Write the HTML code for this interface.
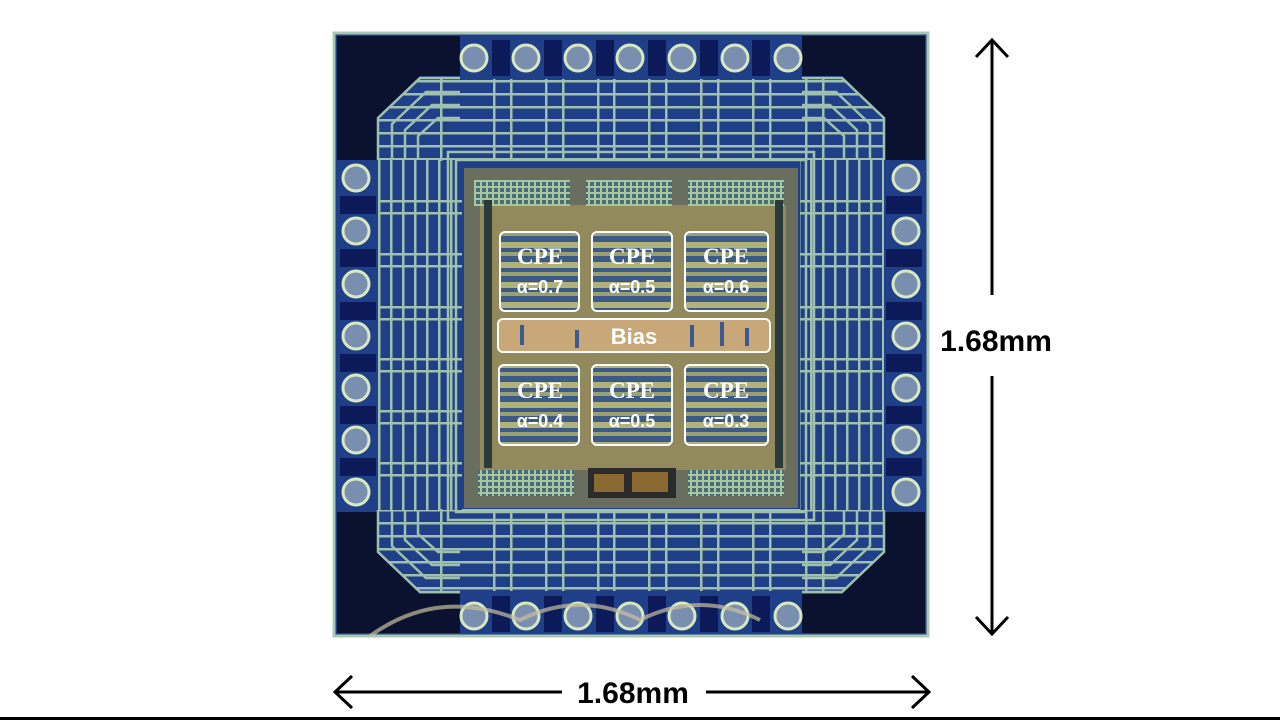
<!DOCTYPE html>
<html><head><meta charset="utf-8"><style>
html,body{margin:0;padding:0;background:#fff;width:1280px;height:720px;overflow:hidden}
svg{display:block}
</style></head><body>
<svg width="1280" height="720" viewBox="0 0 1280 720" xmlns="http://www.w3.org/2000/svg">
<defs>
<pattern id="hl" x="0" y="80" width="20" height="13" patternUnits="userSpaceOnUse">
<rect width="20" height="13" fill="#1f3f88"/><rect y="0" width="20" height="2.5" fill="#9fc0ac"/></pattern>
<pattern id="vl" x="378" y="0" width="12" height="20" patternUnits="userSpaceOnUse">
<rect width="12" height="20" fill="#1f3f88"/><rect x="0" width="2.5" height="20" fill="#9fc0ac"/></pattern>
<pattern id="cpe" x="0" y="0" width="20" height="20" patternUnits="userSpaceOnUse">
<rect width="20" height="20" fill="#3c5a88"/><rect y="2" width="20" height="6" fill="#b0b27a"/><rect y="12" width="20" height="4" fill="#9aa070"/></pattern>
<pattern id="bank" x="0" y="0" width="6" height="6" patternUnits="userSpaceOnUse">
<rect width="6" height="6" fill="#4a6a80"/><rect width="2" height="6" fill="#a8c89a"/><rect width="6" height="2" fill="#a8c89a"/></pattern>
</defs>
<rect x="334" y="33" width="594" height="603" fill="#1f3f88" stroke="#a9c8b2" stroke-width="3"/>
<rect x="378" y="79" width="506" height="82" fill="url(#hl)"/>
<rect x="378" y="509" width="506" height="82" fill="url(#hl)"/>
<rect x="378" y="160" width="84" height="350" fill="url(#vl)"/>
<rect x="800" y="160" width="84" height="350" fill="url(#vl)"/>
<g fill="#9fc0ac">
<rect x="440" y="79" width="2.5" height="82"/><rect x="493" y="79" width="2.5" height="82"/><rect x="510" y="79" width="2.5" height="82"/>
<rect x="545" y="79" width="2.5" height="82"/><rect x="562" y="79" width="2.5" height="82"/><rect x="597" y="79" width="2.5" height="82"/><rect x="613" y="79" width="2.5" height="82"/>
<rect x="648" y="79" width="2.5" height="82"/><rect x="665" y="79" width="2.5" height="82"/><rect x="700" y="79" width="2.5" height="82"/><rect x="717" y="79" width="2.5" height="82"/>
<rect x="752" y="79" width="2.5" height="82"/><rect x="769" y="79" width="2.5" height="82"/><rect x="805" y="79" width="2.5" height="82"/><rect x="822" y="79" width="2.5" height="82"/>
<rect x="440" y="509" width="2.5" height="82"/><rect x="493" y="509" width="2.5" height="82"/><rect x="510" y="509" width="2.5" height="82"/>
<rect x="545" y="509" width="2.5" height="82"/><rect x="562" y="509" width="2.5" height="82"/><rect x="597" y="509" width="2.5" height="82"/><rect x="613" y="509" width="2.5" height="82"/>
<rect x="648" y="509" width="2.5" height="82"/><rect x="665" y="509" width="2.5" height="82"/><rect x="700" y="509" width="2.5" height="82"/><rect x="717" y="509" width="2.5" height="82"/>
<rect x="752" y="509" width="2.5" height="82"/><rect x="769" y="509" width="2.5" height="82"/><rect x="805" y="509" width="2.5" height="82"/><rect x="822" y="509" width="2.5" height="82"/>
<rect x="378" y="200" width="84" height="2.5"/><rect x="378" y="212" width="84" height="2.5"/>
<rect x="378" y="253" width="84" height="2.5"/><rect x="378" y="265" width="84" height="2.5"/>
<rect x="378" y="306" width="84" height="2.5"/><rect x="378" y="318" width="84" height="2.5"/>
<rect x="378" y="358" width="84" height="2.5"/><rect x="378" y="370" width="84" height="2.5"/>
<rect x="378" y="410" width="84" height="2.5"/><rect x="378" y="422" width="84" height="2.5"/>
<rect x="378" y="462" width="84" height="2.5"/><rect x="378" y="474" width="84" height="2.5"/>
<rect x="800" y="200" width="84" height="2.5"/><rect x="800" y="212" width="84" height="2.5"/>
<rect x="800" y="253" width="84" height="2.5"/><rect x="800" y="265" width="84" height="2.5"/>
<rect x="800" y="306" width="84" height="2.5"/><rect x="800" y="318" width="84" height="2.5"/>
<rect x="800" y="358" width="84" height="2.5"/><rect x="800" y="370" width="84" height="2.5"/>
<rect x="800" y="410" width="84" height="2.5"/><rect x="800" y="422" width="84" height="2.5"/>
<rect x="800" y="462" width="84" height="2.5"/><rect x="800" y="474" width="84" height="2.5"/>
</g>
<g fill="#0a1230">
<polygon points="337,36 460,36 460,76 420,76 378,118 378,160 337,160"/>
<polygon points="925,36 802,36 802,76 842,76 884,118 884,160 925,160"/>
<polygon points="337,633 460,633 460,594 420,594 378,552 378,512 337,512"/>
<polygon points="925,633 802,633 802,594 842,594 884,552 884,512 925,512"/>
</g>
<g fill="none" stroke="#9fc0ac" stroke-width="2.5">
<path d="M378,160 V118 L420,78 H460"/><path d="M392,160 V124 L426,92 H460"/><path d="M405,160 V130 L432,105 H460"/><path d="M418,160 V136 L438,118 H460"/>
<path d="M884,160 V118 L842,78 H802"/><path d="M870,160 V124 L836,92 H802"/><path d="M857,160 V130 L830,105 H802"/><path d="M844,160 V136 L824,118 H802"/>
<path d="M378,510 V552 L420,592 H460"/><path d="M392,510 V546 L426,578 H460"/><path d="M405,510 V540 L432,565 H460"/><path d="M418,510 V534 L438,552 H460"/>
<path d="M884,510 V552 L842,592 H802"/><path d="M870,510 V546 L836,578 H802"/><path d="M857,510 V540 L830,565 H802"/><path d="M844,510 V534 L824,552 H802"/>
<rect x="448" y="152" width="366" height="368"/><rect x="456" y="160" width="350" height="352"/>
</g>
<g fill="#0c1a5a">
<rect x="492" y="40" width="18" height="36"/><rect x="544" y="40" width="18" height="36"/><rect x="596" y="40" width="18" height="36"/><rect x="648" y="40" width="18" height="36"/><rect x="700" y="40" width="18" height="36"/><rect x="752" y="40" width="18" height="36"/>
<rect x="492" y="596" width="18" height="36"/><rect x="544" y="596" width="18" height="36"/><rect x="596" y="596" width="18" height="36"/><rect x="648" y="596" width="18" height="36"/><rect x="700" y="596" width="18" height="36"/><rect x="752" y="596" width="18" height="36"/>
<rect x="340" y="196" width="36" height="18"/><rect x="340" y="249" width="36" height="18"/><rect x="340" y="302" width="36" height="18"/><rect x="340" y="354" width="36" height="18"/><rect x="340" y="406" width="36" height="18"/><rect x="340" y="458" width="36" height="18"/>
<rect x="886" y="196" width="36" height="18"/><rect x="886" y="249" width="36" height="18"/><rect x="886" y="302" width="36" height="18"/><rect x="886" y="354" width="36" height="18"/><rect x="886" y="406" width="36" height="18"/><rect x="886" y="458" width="36" height="18"/>
</g>
<g fill="#7a8fb0" stroke="#d8e8c0" stroke-width="3">
<circle cx="474" cy="58" r="13"/><circle cx="526" cy="58" r="13"/><circle cx="578" cy="58" r="13"/><circle cx="630" cy="58" r="13"/><circle cx="682" cy="58" r="13"/><circle cx="735" cy="58" r="13"/><circle cx="788" cy="58" r="13"/>
<circle cx="474" cy="616" r="13"/><circle cx="526" cy="616" r="13"/><circle cx="578" cy="616" r="13"/><circle cx="630" cy="616" r="13"/><circle cx="682" cy="616" r="13"/><circle cx="735" cy="616" r="13"/><circle cx="788" cy="616" r="13"/>
<circle cx="356" cy="178" r="13"/><circle cx="356" cy="231" r="13"/><circle cx="356" cy="284" r="13"/><circle cx="356" cy="336" r="13"/><circle cx="356" cy="388" r="13"/><circle cx="356" cy="440" r="13"/><circle cx="356" cy="492" r="13"/>
<circle cx="906" cy="178" r="13"/><circle cx="906" cy="231" r="13"/><circle cx="906" cy="284" r="13"/><circle cx="906" cy="336" r="13"/><circle cx="906" cy="388" r="13"/><circle cx="906" cy="440" r="13"/><circle cx="906" cy="492" r="13"/>
</g>
<path d="M370,636 C420,600 470,600 520,620 C560,600 600,600 640,620 C680,600 720,600 760,620" fill="none" stroke="#c8c0a0" stroke-width="4" opacity="0.7"/>
<rect x="464" y="168" width="334" height="340" fill="#6a6e5e"/>
<rect x="480" y="205" width="306" height="265" fill="#928a5c"/>
<rect x="474" y="180" width="96" height="26" fill="url(#bank)"/>
<rect x="586" y="180" width="86" height="26" fill="url(#bank)"/>
<rect x="688" y="180" width="96" height="26" fill="url(#bank)"/>
<rect x="478" y="470" width="96" height="26" fill="url(#bank)"/>
<rect x="688" y="470" width="96" height="26" fill="url(#bank)"/>
<rect x="588" y="468" width="88" height="30" fill="#2a2a2a"/>
<rect x="594" y="474" width="30" height="18" fill="#8a6a30"/><rect x="632" y="472" width="36" height="20" fill="#8a6a30"/>
<rect x="484" y="200" width="8" height="268" fill="#2a3a3a"/><rect x="775" y="200" width="8" height="268" fill="#2a3a3a"/>
<g fill="url(#cpe)" stroke="#ffffff" stroke-width="2">
<rect x="500" y="232" width="79" height="79" rx="5"/><rect x="592" y="232" width="80" height="79" rx="5"/><rect x="685" y="232" width="83" height="79" rx="5"/>
<rect x="499" y="365" width="80" height="80" rx="5"/><rect x="592" y="365" width="80" height="80" rx="5"/><rect x="685" y="365" width="83" height="80" rx="5"/>
</g>
<rect x="498" y="319" width="272" height="33" rx="5" fill="#c8a878" stroke="#ffffff" stroke-width="2"/>
<g fill="#3a5a90"><rect x="520" y="325" width="4" height="20"/><rect x="575" y="330" width="4" height="18"/><rect x="720" y="322" width="4" height="24"/><rect x="745" y="328" width="4" height="18"/><rect x="690" y="325" width="4" height="22"/></g>
<g fill="#fff" text-anchor="middle">
<g font-family="Liberation Serif, serif" font-size="23" font-weight="bold">
<text x="540" y="264">CPE</text><text x="632" y="264">CPE</text><text x="726" y="264">CPE</text>
<text x="540" y="398">CPE</text><text x="632" y="398">CPE</text><text x="726" y="398">CPE</text>
</g>
<g font-family="Liberation Sans, sans-serif" font-size="18" font-weight="bold">
<text x="540" y="293">α=0.7</text><text x="632" y="293">α=0.5</text><text x="726" y="293">α=0.6</text>
<text x="540" y="427">α=0.4</text><text x="632" y="427">α=0.5</text><text x="726" y="427">α=0.3</text>
<text x="634" y="344" font-size="22">Bias</text>
</g>
</g>
<g stroke="#000" stroke-width="3" fill="none">
<line x1="992" y1="40" x2="992" y2="295"/><polyline points="976,57 992,40 1008,57"/>
<line x1="992" y1="376" x2="992" y2="634"/><polyline points="976,617 992,634 1008,617"/>
<line x1="335" y1="692" x2="562" y2="692"/><polyline points="352,676 335,692 352,708"/>
<line x1="706" y1="692" x2="929" y2="692"/><polyline points="912,676 929,692 912,708"/>
</g>
<g font-family="Liberation Sans, sans-serif" font-size="30" font-weight="bold" fill="#000" text-anchor="middle">
<text x="996" y="351">1.68mm</text>
<text x="633" y="703">1.68mm</text>
</g>
<rect x="0" y="717" width="1280" height="3" fill="#000"/>
</svg>
</body></html>
